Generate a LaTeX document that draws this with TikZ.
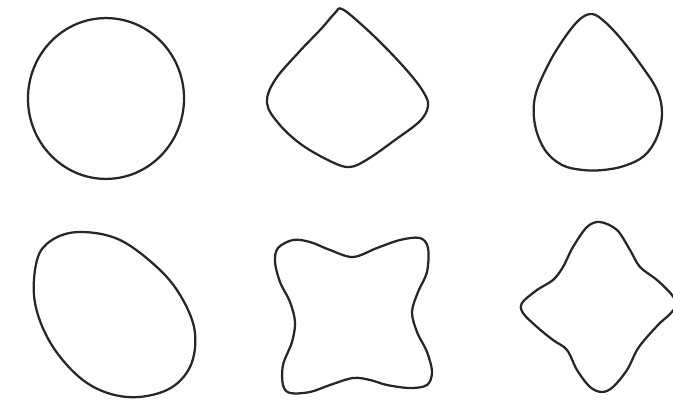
\documentclass[tikz,border=0pt]{standalone}
\usepackage{tikz}

\begin{document}
\begin{tikzpicture}[x=0.025cm,y=-0.025cm,
  outline/.style={draw=black!85,line width=1.6pt,line join=round}]
\useasboundingbox (0,0) rectangle (673,400);

% top row
\draw[outline] (106,98.5) ellipse [x radius=1.95cm, y radius=2.01cm];

\draw[outline] plot[smooth cycle,tension=0.6] coordinates {
  (342,9) (362,25) (386,48) (410,74) (424,93) (428,106) (420,121)
  (395,140) (368,159) (350,167) (332,162) (302,145) (279,124)
  (267,103) (275,80) (299,52) (321,29) (335,13)};

\draw[outline] plot[smooth cycle,tension=0.6] coordinates {
  (592,14) (605,22) (622,40) (641,65) (657,90) (662,113) (657,137)
  (644,156) (624,166) (603,170) (583,170) (562,165) (545,150) (535,125)
  (535,97) (547,67) (563,40) (579,20)};

% bottom row
\draw[outline] plot[smooth cycle,tension=0.6] coordinates {
  (80,232) (120,240) (160,270) (183,300) (195,333) (190,367) (167,390)
  (127,397) (87,383) (53,347) (35,303) (37,260) (52,240)};

\draw[outline] plot[smooth cycle,tension=0.55] coordinates {
  (353,257) (377,248) (400,240) (420,238) (428,248) (427,272) (418,292)
  (412,312) (417,332) (427,352) (432,372) (427,385) (410,388) (387,385)
  (370,380) (353,378) (330,385) (310,392) (290,393) (283,385) (283,365)
  (292,342) (295,322) (290,302) (280,282) (275,262) (278,248) (293,240)
  (310,242) (330,250)};

\draw[outline] plot[smooth cycle,tension=0.55] coordinates {
  (600,222) (617,230) (630,250) (640,267) (657,280) (672,295) (676,305)
  (670,314) (660,323) (647,337) (637,350) (627,370) (613,387) (602,392)
  (590,387) (577,370) (567,350) (553,340) (537,327) (523,313) (522,303)
  (537,290) (553,280) (563,267) (573,247) (587,227)};
\end{tikzpicture}
\end{document}
